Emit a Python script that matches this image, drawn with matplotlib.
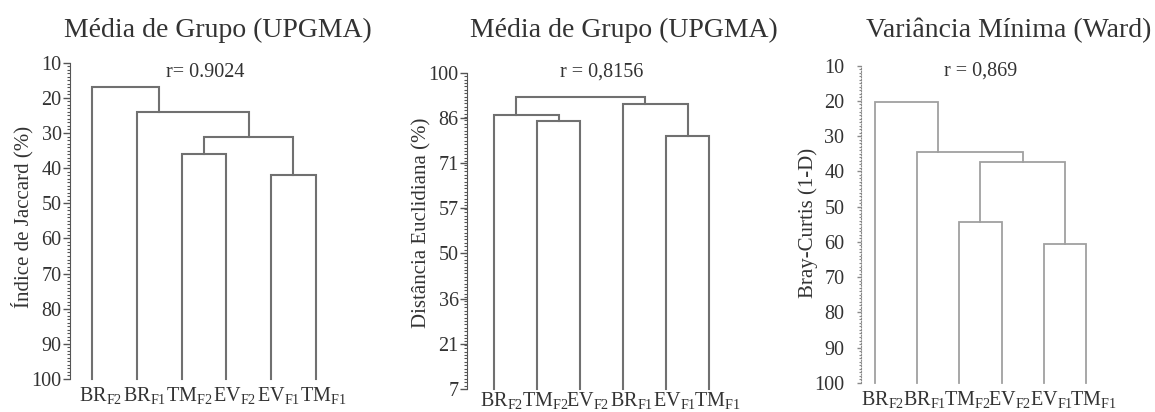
import matplotlib
matplotlib.use("Agg")
import matplotlib.pyplot as plt
from matplotlib.ticker import MultipleLocator, FixedLocator
from matplotlib.transforms import blended_transform_factory

plt.rcParams['font.family'] = ['Liberation Serif', 'DejaVu Serif']
plt.rcParams['mathtext.fontset'] = 'custom'
plt.rcParams['mathtext.rm'] = 'Liberation Serif'
plt.rcParams['mathtext.it'] = 'Liberation Serif:italic'

TXT = '#333333'

# ---- data -------------------------------------------------------------
titles = ['Média de Grupo (UPGMA)', 'Média de Grupo (UPGMA)', 'Variância Mínima (Ward)']
r_texts = ['r= 0.9024', 'r = 0,8156', 'r = 0,869']
y_labels = ['Índice de Jaccard (%)', 'Distância Euclidiana (%)', 'Bray-Curtis (1-D)']

leaves_jaccard = ['BR_F2', 'BR_F1', 'TM_F2', 'EV_F2', 'EV_F1', 'TM_F1']
leaves_euclid = ['BR_F2', 'TM_F2', 'EV_F2', 'BR_F1', 'EV_F1', 'TM_F1']
leaves_bray = ['BR_F2', 'BR_F1', 'TM_F2', 'EV_F2', 'EV_F1', 'TM_F1']

# merges: (child a, child b, level); nodes 0-5 are leaves, new nodes from 6
merges_jaccard = [(2, 3, 36.0), (4, 5, 42.0), (6, 7, 31.0), (1, 8, 24.0), (0, 9, 17.0)]
merges_euclid = [(1, 2, 85.9), (4, 5, 81.5), (0, 6, 87.6), (3, 7, 90.8), (8, 9, 92.9)]
merges_bray = [(2, 3, 54.5), (4, 5, 60.5), (6, 7, 37.4), (1, 8, 34.4), (0, 9, 20.2)]

ticks_jaccard = [10, 20, 30, 40, 50, 60, 70, 80, 90, 100]
ticks_euclid_labels = ['7', '21', '36', '50', '57', '71', '86', '100']
ticks_bray = [10, 20, 30, 40, 50, 60, 70, 80, 90, 100]

W, H = 1155, 412
fig = plt.figure(figsize=(W / 100, H / 100), dpi=100)


def px_axes(left, right, top, bottom):
    return fig.add_axes([left / W, (H - bottom) / H, (right - left) / W, (bottom - top) / H])


def leaf_label(name):
    base, sub = name.split('_')
    return base + r'$_{\mathrm{' + sub + '}}$'


def draw_tree(ax, leaves, merges, base, color, lw, label_gap=-0.018):
    n = len(leaves)
    xs = {i: float(i) for i in range(n)}
    ys = {i: base for i in range(n)}
    cnt = {i: 1 for i in range(n)}
    for k, (a, b, h) in enumerate(merges):
        node = n + k
        ax.plot([xs[a], xs[a], xs[b], xs[b]], [ys[a], h, h, ys[b]],
                color=color, lw=lw, solid_joinstyle='miter', clip_on=False)
        cnt[node] = cnt[a] + cnt[b]
        xs[node] = (cnt[b] * xs[a] + cnt[a] * xs[b]) / cnt[node]
        ys[node] = h
    tr = blended_transform_factory(ax.transData, ax.transAxes)
    for i, name in enumerate(leaves):
        ax.text(i + 0.18, label_gap, leaf_label(name), transform=tr, ha='center', va='top',
                fontsize=14.5, color=TXT)


def style_axis(ax, pad, spine_color, spine_ls='-'):
    for s in ['top', 'right', 'bottom']:
        ax.spines[s].set_visible(False)
    ax.spines['left'].set_color(spine_color)
    ax.spines['left'].set_linestyle(spine_ls)
    ax.set_xticks([])
    ax.tick_params(axis='y', which='major', length=5, width=1, color=spine_color,
                   labelsize=14.5, labelcolor=TXT, pad=pad)
    ax.tick_params(axis='y', which='minor', length=2.5, width=0.8, color=spine_color)


# ---- panel 1: Jaccard / UPGMA -----------------------------------------
ax1 = px_axes(70, 338, 62.7, 379)
ax1.set_xlim(-0.5, 5.5)
ax1.set_ylim(100, 10)
ax1.yaxis.set_major_locator(FixedLocator(ticks_jaccard))
ax1.yaxis.set_minor_locator(MultipleLocator(1))
style_axis(ax1, 1, '#555555')
draw_tree(ax1, leaves_jaccard, merges_jaccard, 100, '#707070', 1.5)

# ---- panel 2: Euclidean / UPGMA ---------------------------------------
ax2 = px_axes(467, 731, 72.7, 389)
ax2.set_xlim(-0.63, 5.5)
ax2.set_ylim(7, 100)
pos2 = [7 + i * (100 - 7) / 7 for i in range(8)]
ax2.yaxis.set_major_locator(FixedLocator(pos2))
ax2.set_yticklabels(ticks_euclid_labels)
ax2.yaxis.set_minor_locator(MultipleLocator(1))
style_axis(ax2, 1, '#555555')
draw_tree(ax2, leaves_euclid, merges_euclid, 7, '#707070', 1.5, label_gap=-0.004)

# ---- panel 3: Bray-Curtis / Ward --------------------------------------
ax3 = px_axes(861, 1107, 65.7, 382.8)
ax3.set_xlim(-0.33, 5.5)
ax3.set_ylim(100, 10)
ax3.yaxis.set_major_locator(FixedLocator(ticks_bray))
ax3.yaxis.set_minor_locator(MultipleLocator(1))
style_axis(ax3, 9, '#8a8a8a', (0, (1, 1.5)))
ax3.tick_params(axis='y', which='major', length=3)
ax3.tick_params(axis='y', which='minor', length=1.5)
draw_tree(ax3, leaves_bray, merges_bray, 100, '#a0a0a0', 1.3)

# ---- titles, correlation notes and axis names --------------------------
def ftext(x, y, s, **kw):
    fig.text(x / W, (H - y) / H, s, color=TXT, **kw)


ftext(218, 37, titles[0], ha='center', va='baseline', fontsize=20)
ftext(470, 37, titles[1], ha='left', va='baseline', fontsize=20)
ftext(866, 37, titles[2], ha='left', va='baseline', fontsize=20)

ftext(205, 77, r_texts[0], ha='center', va='baseline', fontsize=14.5)
ftext(602, 77, r_texts[1], ha='center', va='baseline', fontsize=14.5)
ftext(981, 76, r_texts[2], ha='center', va='baseline', fontsize=14.5)

ftext(22, 217, y_labels[0], ha='center', va='center', rotation=90, fontsize=15)
ftext(422, 223, y_labels[1], ha='center', va='center', rotation=90, fontsize=15)
ftext(808, 223, y_labels[2], ha='center', va='center', rotation=90, fontsize=15)

fig.savefig('out.png', dpi=100, facecolor='white')
